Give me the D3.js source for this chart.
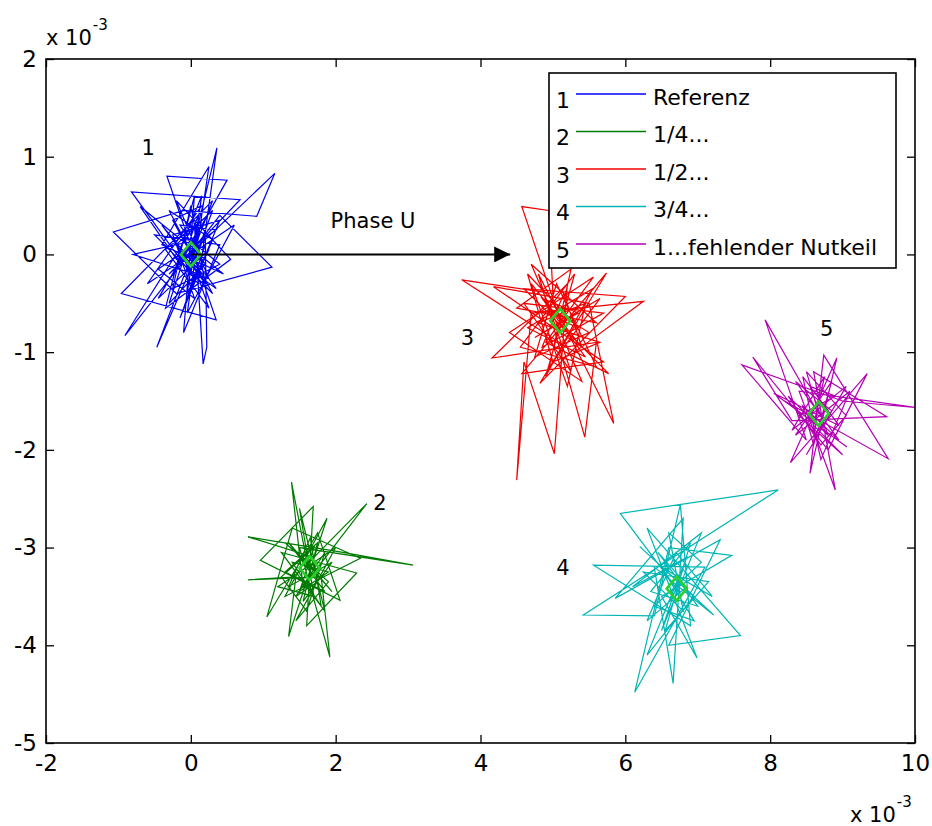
<!DOCTYPE html>
<html>
<head>
<meta charset="utf-8">
<script src="https://cdn.jsdelivr.net/npm/d3@7/dist/d3.min.js"></script>
<style>
  html, body { margin: 0; padding: 0; background: #fff; }
  svg { display: block; }
  text { font-family: "DejaVu Sans", "Liberation Sans", sans-serif; fill: #000; }
</style>
</head>
<body>
<svg id="chart" width="932" height="826"></svg>
<script>
// Values are in units of 1e-3 (axis multiplier "x 10^-3").
const xTicks = [-2, 0, 2, 4, 6, 8, 10];
const yTicks = [-5, -4, -3, -2, -1, 0, 1, 2];

const seriesNames = ["Referenz", "1/4...", "1/2...", "3/4...", "1...fehlender Nutkeil"];
const seriesIds = ["1", "2", "3", "4", "5"];
const seriesColors = ["#0000f0", "#007a00", "#f00000", "#00b5b5", "#b400b4"];

// 1: Referenz
const seriesRef = [
  [0.00, 0.00], [0.36, 1.09], [0.10, -0.30], [-0.82, 0.64], [0.68, 0.56], [-0.30, -0.20],
  [1.16, 0.83], [0.91, 0.39], [-0.10, 0.45], [-1.07, 0.23], [-0.20, -0.40], [1.12, -0.13],
  [0.40, 0.40], [-0.91, -0.83], [0.05, 0.30], [0.17, -1.12], [0.22, -0.95], [0.20, 0.20],
  [-0.47, -0.95], [0.30, 0.55], [-0.96, -0.40], [0.35, -0.67], [-0.33, 0.80], [0.50, 0.76],
  [-0.15, -0.10], [-0.70, 0.49], [0.45, -0.20], [-0.40, 0.10], [0.25, 0.90], [-0.05, -0.60],
  [0.60, 0.30], [-0.60, -0.30], [0.15, 0.50], [-0.25, 0.35], [0.30, -0.40], [-0.50, 0.20],
  [0.40, 0.10], [-0.10, -0.80], [0.05, 0.60], [-0.35, -0.55], [0.55, -0.05], [-0.20, 0.55],
  [0.25, -0.25], [-0.80, 0.00], [0.10, 0.15], [0.10, 0.40], [-0.30, -0.50], [0.20, -0.10],
  [-0.15, 0.30], [0.35, 0.25], [-0.45, -0.15], [0.05, -0.45], [-0.20, 0.10], [0.30, 0.45],
  [-0.05, -0.25], [0.15, 0.35], [-0.35, 0.05], [0.25, -0.55], [-0.10, 0.20], [0.40, -0.10],
  [-0.25, -0.35], [0.00, 0.50], [0.20, -0.30], [-0.40, 0.30], [0.10, -0.15], [-0.15, -0.65],
  [0.30, 0.15], [-0.30, 0.45], [0.05, -0.05], [0.35, -0.35], [-0.20, -0.05], [0.15, 0.60],
  [-0.05, -0.40], [0.25, 0.05], [-0.45, -0.45], [0.10, 0.25], [0.00, -0.20], [-0.25, 0.20],
  [0.40, 0.35], [-0.10, -0.55], [0.20, 0.10], [0.00, 0.00]
];

// 2: 1/4
const series14 = [
  [1.62, -3.21], [1.39, -2.33], [1.55, -3.40], [2.43, -2.55], [1.70, -3.10], [0.79, -2.89],
  [2.10, -3.05], [3.07, -3.18], [1.50, -3.00], [1.92, -4.12], [1.80, -3.30], [0.79, -3.33],
  [1.45, -3.30], [1.35, -3.91], [1.88, -2.70], [1.30, -3.50], [2.34, -3.11], [1.40, -2.80],
  [1.05, -3.71], [1.75, -2.85], [2.06, -3.54], [0.96, -3.13], [1.69, -2.58], [1.60, -3.80],
  [2.29, -3.26], [1.25, -3.05], [1.85, -3.65], [1.50, -2.60], [1.70, -3.50], [1.20, -3.40],
  [2.00, -3.00], [1.45, -3.75], [1.90, -3.35], [1.30, -2.95], [1.45, -3.05], [1.85, -3.45],
  [1.30, -3.25], [1.75, -2.95], [1.55, -3.55], [1.95, -3.15], [1.35, -3.40], [1.65, -2.90],
  [1.80, -3.60], [1.40, -3.15], [1.90, -3.25], [1.50, -3.45], [1.70, -3.00], [1.25, -3.30],
  [1.60, -3.65], [1.85, -3.05], [1.45, -3.50], [1.75, -3.35], [1.35, -2.95], [1.95, -3.45],
  [1.55, -3.10], [1.62, -3.21]
];

// 3: 1/2
const series12 = [
  [5.10, -0.67], [4.57, 0.49], [4.94, 0.45], [5.00, -0.40], [3.74, -0.26], [5.30, -1.00],
  [6.25, -0.48], [4.70, -0.60], [4.50, -2.31], [4.60, -1.10], [5.02, -2.04], [5.20, -0.30],
  [4.16, -1.06], [5.60, -0.90], [5.44, -1.87], [4.80, -0.20], [5.84, -1.73], [5.50, -0.50],
  [4.18, -0.33], [5.70, -1.10], [4.57, -1.22], [5.74, -0.19], [4.82, -1.32], [6.00, -0.43],
  [4.60, -0.35], [5.77, -1.22], [4.90, -0.90], [5.56, -0.23], [4.40, -0.80], [5.40, -1.30],
  [4.70, -0.10], [5.60, -0.70], [4.50, -0.55], [5.25, -0.15], [4.95, -1.15], [5.65, -0.45],
  [4.75, -0.85], [5.35, -0.60], [4.85, -0.45], [5.45, -1.05], [4.65, -0.75], [5.55, -0.35],
  [4.90, -1.25], [5.30, -0.20], [4.55, -0.95], [5.60, -1.15], [5.05, -0.30], [4.75, -1.05],
  [5.50, -0.80], [4.95, -0.55], [5.25, -1.20], [4.60, -0.50], [5.70, -0.60], [4.85, -0.95],
  [5.15, -0.40], [5.40, -0.95], [4.70, -0.30], [5.20, -1.35], [5.45, -0.50], [4.80, -0.70],
  [5.65, -0.90], [5.00, -1.10], [4.65, -0.20], [5.35, -0.75], [5.10, -0.67]
];

// 4: 3/4
const series34 = [
  [6.71, -3.42], [5.93, -2.65], [8.11, -2.41], [5.42, -3.69], [6.40, -3.70], [6.76, -2.56],
  [6.90, -3.80], [5.56, -3.18], [7.10, -3.20], [6.13, -4.48], [6.60, -3.00], [7.47, -3.08],
  [6.50, -3.50], [6.99, -4.13], [6.30, -2.80], [7.59, -3.90], [6.60, -4.00], [7.31, -2.92],
  [5.86, -3.52], [6.80, -2.70], [6.66, -4.39], [6.40, -3.20], [7.22, -3.69], [6.20, -2.99],
  [6.95, -3.50], [6.30, -4.10], [6.85, -3.10], [6.10, -3.40], [7.05, -2.85], [6.50, -3.85],
  [6.75, -3.30], [6.45, -3.05], [7.00, -3.60], [6.35, -3.45], [6.90, -2.95], [6.55, -3.85],
  [7.15, -3.35], [6.25, -3.25], [6.80, -3.65], [6.60, -2.85], [7.05, -3.15], [6.40, -3.60],
  [6.95, -3.75], [6.50, -3.20], [7.20, -3.50], [6.70, -3.05], [6.30, -3.75], [6.85, -3.40],
  [6.60, -3.55], [6.71, -3.42]
];

// 5: fehlender Nutkeil
const series5 = [
  [8.67, -1.63], [7.93, -0.67], [8.50, -1.90], [7.61, -1.13], [9.00, -1.50], [10.05, -1.57],
  [8.40, -1.40], [8.90, -2.41], [8.60, -1.20], [9.61, -1.66], [8.30, -1.70], [7.76, -1.05],
  [8.80, -2.00], [9.34, -1.22], [8.28, -2.13], [8.92, -1.06], [8.55, -2.24], [8.74, -1.03],
  [9.63, -2.09], [8.20, -1.50], [9.06, -1.97], [8.05, -1.42], [8.95, -1.75], [8.45, -1.25],
  [8.70, -2.10], [9.10, -1.40], [8.35, -1.85], [8.85, -1.30], [8.60, -1.95], [8.45, -1.55],
  [8.95, -1.90], [8.35, -1.30], [8.85, -1.60], [8.50, -2.05], [9.05, -1.35], [8.30, -1.80],
  [8.75, -1.25], [8.60, -1.75], [9.00, -2.05], [8.40, -1.65], [8.90, -1.45], [8.55, -1.35],
  [8.80, -1.85], [8.25, -1.45], [8.70, -1.95], [9.05, -1.65], [8.50, -1.20], [8.67, -1.63]
];

// Mean positions (diamond markers)
const centroidX = [0.00, 1.64, 5.10, 6.71, 8.67];
const centroidY = [0.00, -3.21, -0.68, -3.42, -1.63];

// Cluster number labels
const labelX = [-0.59, 2.61, 3.82, 5.14, 8.78];
const labelY = [1.09, -2.54, -0.85, -3.20, -0.76];

// Phase-shift arrow and caption
const arrowStart = [0.0, 0.0];
const arrowEnd = [4.41, 0.0];
const arrowCaption = "Phase U";
const arrowCaptionPos = [1.93, 0.27];

const allSeries = [seriesRef, series14, series12, series34, series5];

const svg = d3.select("#chart");
const padL = 46, padR = 915, padT = 59, padB = 743;

const x = d3.scaleLinear().domain([-2, 10]).range([padL, padR]);
const y = d3.scaleLinear().domain([-5, 2]).range([padB, padT]);

const defs = svg.append("defs");
defs.append("clipPath").attr("id", "plotclip")
  .append("rect").attr("x", padL).attr("y", padT)
  .attr("width", padR - padL).attr("height", padB - padT);

// Data traces
const line = d3.line().x(d => x(d[0])).y(d => y(d[1]));
const plot = svg.append("g").attr("clip-path", "url(#plotclip)");
allSeries.forEach((s, i) => {
  plot.append("path")
    .attr("d", line(s))
    .attr("fill", "none")
    .attr("stroke", seriesColors[i])
    .attr("stroke-width", 1.2)
    .attr("stroke-linejoin", "miter");
});

// Diamond markers at the cluster means
plot.selectAll(".centroid").data(centroidX).join("path")
  .attr("class", "centroid")
  .attr("transform", (d, i) => `translate(${x(d)},${y(centroidY[i])})`)
  .attr("d", "M0,-12L10,0L0,12L-10,0Z")
  .attr("fill", "none")
  .attr("stroke", "#2ad02a")
  .attr("stroke-width", 2.6);

// Arrow
defs.append("marker")
  .attr("id", "arrowhead")
  .attr("viewBox", "0 0 16 16")
  .attr("refX", 16).attr("refY", 8)
  .attr("markerWidth", 16).attr("markerHeight", 16)
  .attr("markerUnits", "userSpaceOnUse")
  .attr("orient", "auto")
  .append("path").attr("d", "M0,0L16,8L0,16Z").attr("fill", "#000");

svg.append("line")
  .attr("x1", x(arrowStart[0])).attr("y1", y(arrowStart[1]))
  .attr("x2", x(arrowEnd[0])).attr("y2", y(arrowEnd[1]))
  .attr("stroke", "#000").attr("stroke-width", 2)
  .attr("marker-end", "url(#arrowhead)");

svg.append("text")
  .attr("x", x(arrowCaptionPos[0])).attr("y", y(arrowCaptionPos[1]))
  .attr("font-size", 21)
  .text(arrowCaption);

// Cluster labels
svg.selectAll(".clabel").data(seriesIds).join("text")
  .attr("class", "clabel")
  .attr("x", (d, i) => x(labelX[i])).attr("y", (d, i) => y(labelY[i]))
  .attr("text-anchor", "middle").attr("dy", "0.36em")
  .attr("font-size", 21)
  .text(d => d);

// Axes (ticks inward, box on)
const tickText = d => String(d);
const gx = svg.append("g").attr("transform", `translate(0,${padB})`)
  .call(d3.axisBottom(x).tickValues(xTicks).tickSize(-8).tickPadding(12).tickFormat(tickText));
const gxt = svg.append("g").attr("transform", `translate(0,${padT})`)
  .call(d3.axisTop(x).tickValues(xTicks).tickSize(-8).tickFormat(""));
const gy = svg.append("g").attr("transform", `translate(${padL},0)`)
  .call(d3.axisLeft(y).tickValues(yTicks).tickSize(-8).tickPadding(9).tickFormat(tickText));
const gyr = svg.append("g").attr("transform", `translate(${padR},0)`)
  .call(d3.axisRight(y).tickValues(yTicks).tickSize(-8).tickFormat(""));

[gx, gxt, gy, gyr].forEach(g => {
  g.select(".domain").remove();
  g.selectAll(".tick line").attr("stroke", "#000").attr("stroke-width", 1.3);
  g.selectAll("text")
    .attr("font-family", "DejaVu Sans, Liberation Sans, sans-serif")
    .attr("font-size", 23).attr("fill", "#000");
});

svg.append("rect")
  .attr("x", padL).attr("y", padT)
  .attr("width", padR - padL).attr("height", padB - padT)
  .attr("fill", "none").attr("stroke", "#000").attr("stroke-width", 1.6);

// Exponent labels
function exponent(xp, yp) {
  const t = svg.append("text").attr("x", xp).attr("y", yp).attr("font-size", 21);
  t.append("tspan").text("x 10");
  t.append("tspan").attr("dy", -15).attr("dx", 1).attr("font-size", 15).text("-3");
}
exponent(46, 45);
exponent(850, 822);

// Legend
const lg = svg.append("g");
lg.append("rect")
  .attr("x", 549).attr("y", 73).attr("width", 347).attr("height", 195)
  .attr("fill", "#fff").attr("stroke", "#000").attr("stroke-width", 1.6);
seriesNames.forEach((name, i) => {
  const ly = 94 + i * 37.5;
  lg.append("text").attr("x", 556).attr("y", ly + 6).attr("dy", "0.36em")
    .attr("font-size", 22).text(seriesIds[i]);
  lg.append("line").attr("x1", 576).attr("x2", 646).attr("y1", ly).attr("y2", ly)
    .attr("stroke", seriesColors[i]).attr("stroke-width", 1.4);
  lg.append("text").attr("x", 653).attr("y", ly + 3).attr("dy", "0.36em")
    .attr("font-size", 22).text(name);
});
</script>
</body>
</html>
